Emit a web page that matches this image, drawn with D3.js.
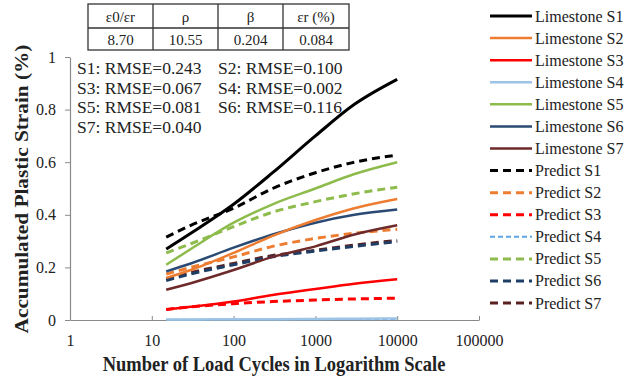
<!DOCTYPE html>
<html>
<head>
<meta charset="utf-8">
<script src="https://cdn.jsdelivr.net/npm/d3@7"></script>
<style>
  body { margin: 0; background: #fff; }
</style>
</head>
<body>
<script>
const cycles = [15, 30, 100, 300, 1000, 3000, 10000];

// measured (solid) and predicted (dashed) plastic strain, %
const limestoneS1 = [0.27, 0.33, 0.44, 0.56, 0.70, 0.82, 0.915];
const limestoneS2 = [0.16, 0.19, 0.255, 0.32, 0.38, 0.425, 0.46];
const limestoneS3 = [0.04, 0.05, 0.07, 0.095, 0.118, 0.138, 0.155];
const limestoneS4 = [0.002, 0.002, 0.003, 0.003, 0.004, 0.005, 0.006];
const limestoneS5 = [0.21, 0.27, 0.37, 0.44, 0.50, 0.555, 0.60];
const limestoneS6 = [0.185, 0.215, 0.275, 0.325, 0.37, 0.40, 0.42];
const limestoneS7 = [0.115, 0.14, 0.19, 0.24, 0.28, 0.325, 0.36];
const predictS1 = [0.315, 0.36, 0.425, 0.50, 0.56, 0.60, 0.627];
const predictS2 = [0.175, 0.20, 0.24, 0.28, 0.31, 0.33, 0.345];
const predictS3 = [0.04, 0.05, 0.062, 0.07, 0.076, 0.08, 0.083];
const predictS4 = [0.001, 0.001, 0.002, 0.002, 0.003, 0.003, 0.004];
const predictS5 = [0.255, 0.29, 0.355, 0.41, 0.45, 0.48, 0.505];
const predictS6 = [0.15, 0.175, 0.21, 0.24, 0.262, 0.28, 0.298];
const predictS7 = [0.155, 0.18, 0.215, 0.245, 0.265, 0.285, 0.303];

const xTicks = [1, 10, 100, 1000, 10000, 100000];
const yTicks = [0, 0.2, 0.4, 0.6, 0.8, 1];

const tableHead = ["ε0/εr", "ρ", "β", "εr (%)"];
const tableVals = ["8.70", "10.55", "0.204", "0.084"];
const rmseText = [
  ["S1: RMSE=0.243", "S2: RMSE=0.100"],
  ["S3: RMSE=0.067", "S4: RMSE=0.002"],
  ["S5: RMSE=0.081", "S6: RMSE=0.116"],
  ["S7: RMSE=0.040", ""]
];

const series = [
  { name: "Limestone S1", values: limestoneS1, color: "#000000", dash: null, w: 3 },
  { name: "Limestone S2", values: limestoneS2, color: "#ED7D31", dash: null, w: 2.5 },
  { name: "Limestone S3", values: limestoneS3, color: "#FF0000", dash: null, w: 2.5 },
  { name: "Limestone S4", values: limestoneS4, color: "#9DC3E6", dash: null, w: 2.5 },
  { name: "Limestone S5", values: limestoneS5, color: "#8DBB4C", dash: null, w: 2.5 },
  { name: "Limestone S6", values: limestoneS6, color: "#2A4A74", dash: null, w: 2.5 },
  { name: "Limestone S7", values: limestoneS7, color: "#6E2A2A", dash: null, w: 2.5 },
  { name: "Predict S1", values: predictS1, color: "#000000", dash: "8,5", w: 3 },
  { name: "Predict S2", values: predictS2, color: "#ED7D31", dash: "8,5", w: 3 },
  { name: "Predict S3", values: predictS3, color: "#FF0000", dash: "8,5", w: 3 },
  { name: "Predict S4", values: predictS4, color: "#5BA7E6", dash: "5,3", w: 2 },
  { name: "Predict S5", values: predictS5, color: "#8DBB4C", dash: "8,5", w: 3 },
  { name: "Predict S6", values: predictS6, color: "#1F3E66", dash: "8,5", w: 3 },
  { name: "Predict S7", values: predictS7, color: "#5A2020", dash: "8,5", w: 3 }
];

const FONT = "'Liberation Serif', 'DejaVu Serif', serif";
const W = 626, H = 379;
const svg = d3.select("body").append("svg").attr("width", W).attr("height", H)
  .attr("font-family", "Liberation Serif");

// plot area
const x = d3.scaleLog().domain([1, 100000]).range([70, 479]);
const y = d3.scaleLinear().domain([0, 1]).range([320, 57]);

// axes
const axisColor = "#8a8a8a";
const gx = svg.append("g").attr("transform", "translate(0,320)")
  .call(d3.axisBottom(x).tickValues(xTicks).tickFormat(d3.format("d")).tickSizeInner(-4).tickSizeOuter(0).tickPadding(15));
const gy = svg.append("g").attr("transform", "translate(70,0)")
  .call(d3.axisLeft(y).tickValues(yTicks).tickFormat(d => d === 0 || d === 1 ? d : d.toFixed(1)).tickSizeInner(5).tickSizeOuter(0).tickPadding(9));
[gx, gy].forEach(g => {
  g.attr("font-family", "Liberation Serif");
  g.select(".domain").attr("stroke", axisColor).attr("stroke-width", 1.2);
  g.selectAll(".tick line").attr("stroke", axisColor);
  g.selectAll(".tick text").style("font-size", "16px");
});

// axis titles (the source image is a little stretched vertically)
svg.append("text")
  .attr("transform", "translate(274,371) scale(1,1.18)")
  .attr("text-anchor", "middle")
  .style("font-size", "18.5px").style("font-weight", "bold")
  .text("Number of Load Cycles in Logarithm Scale");
svg.append("text")
  .attr("transform", "translate(28,189) rotate(-90) scale(1.12,1)")
  .attr("text-anchor", "middle")
  .style("font-size", "19px").style("font-weight", "bold")
  .text("Accumulated Plastic Strain (%)");

// curves
const line = d3.line()
  .x((d, i) => x(cycles[i]))
  .y(d => y(d))
  .curve(d3.curveMonotoneX);

svg.append("g").selectAll("path")
  .data(series.slice().reverse())
  .enter().append("path")
  .attr("d", d => line(d.values))
  .attr("fill", "none")
  .attr("stroke", d => d.color)
  .attr("stroke-width", d => d.w)
  .attr("stroke-dasharray", d => d.dash);

// parameter table
const colX = [88, 153, 218, 283, 349];
const rowY = [4, 28, 50];
const table = svg.append("g");
table.append("rect")
  .attr("x", colX[0]).attr("y", rowY[0])
  .attr("width", colX[4] - colX[0]).attr("height", rowY[2] - rowY[0])
  .attr("fill", "none").attr("stroke", "#333").attr("stroke-width", 1.3);
table.append("line").attr("x1", colX[0]).attr("x2", colX[4])
  .attr("y1", rowY[1]).attr("y2", rowY[1]).attr("stroke", "#333").attr("stroke-width", 1.3);
colX.slice(1, 4).forEach(cx => {
  table.append("line").attr("x1", cx).attr("x2", cx)
    .attr("y1", rowY[0]).attr("y2", rowY[2]).attr("stroke", "#333").attr("stroke-width", 1.3);
});
tableHead.forEach((t, i) => {
  table.append("text").attr("x", (colX[i] + colX[i + 1]) / 2).attr("y", 22)
    .attr("text-anchor", "middle").style("font-size", "15px").text(t);
});
tableVals.forEach((t, i) => {
  table.append("text").attr("x", (colX[i] + colX[i + 1]) / 2).attr("y", 45)
    .attr("text-anchor", "middle").style("font-size", "15px").text(t);
});

// RMSE notes
rmseText.forEach((row, r) => {
  row.forEach((t, c) => {
    svg.append("text")
      .attr("x", c === 0 ? 77 : 218).attr("y", 74 + r * 19.5)
      .style("font-size", "17.5px").text(t);
  });
});

// legend
const legend = svg.append("g");
series.forEach((s, i) => {
  const ly = 16 + i * 22.08;
  legend.append("line")
    .attr("x1", 490).attr("x2", 532).attr("y1", ly).attr("y2", ly)
    .attr("stroke", s.color).attr("stroke-width", s.w)
    .attr("stroke-dasharray", s.dash);
  legend.append("text")
    .attr("x", 535).attr("y", ly + 5.5)
    .style("font-size", "16px").text(s.name);
});

svg.selectAll("text").style("font-family", FONT).attr("fill", "#222");
</script>
</body>
</html>
